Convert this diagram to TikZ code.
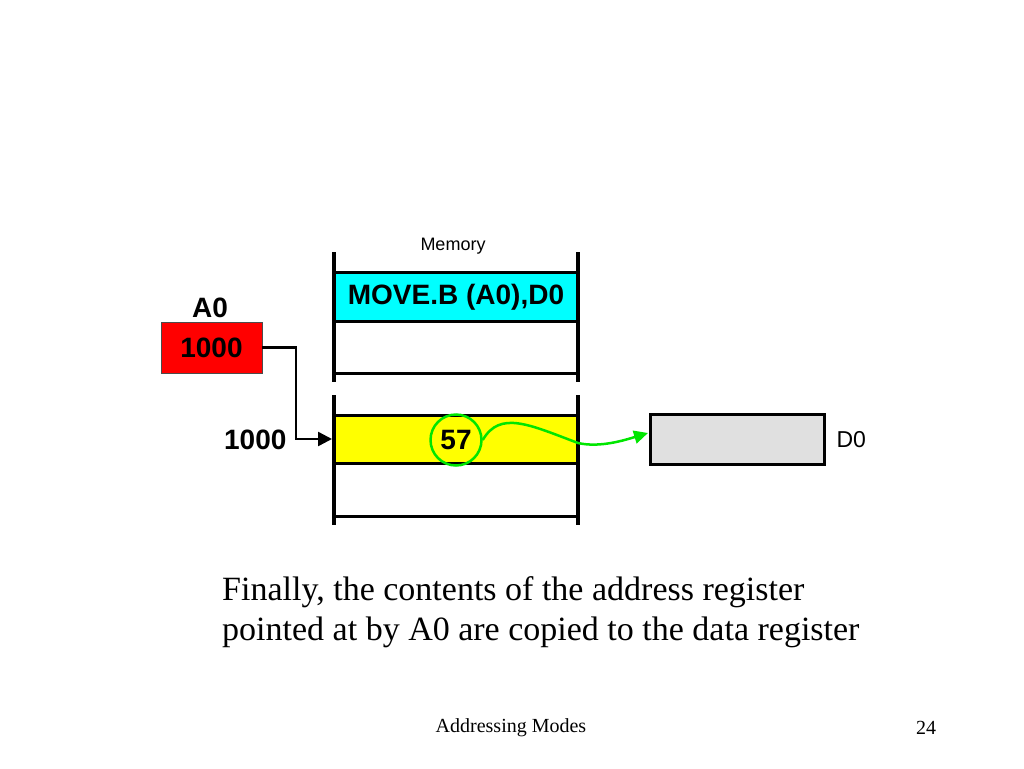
\documentclass[tikz,border=0pt]{standalone}
\usepackage{fontspec}
\setmainfont{Liberation Serif}
\setsansfont{Liberation Sans}
\usetikzlibrary{arrows.meta}
\definecolor{memcyan}{RGB}{0,255,255}
\definecolor{regred}{RGB}{255,0,0}
\definecolor{memyellow}{RGB}{255,255,0}
\definecolor{regGray}{RGB}{224,224,224}
\definecolor{flowgreen}{RGB}{0,230,0}
\tikzset{
  memline/.style={line width=3pt},
  bigsans/.style={font=\sffamily\bfseries\fontsize{28}{32}\selectfont},
  ptr/.style={line width=2.5pt,-{Triangle[length=14pt,width=14pt]}},
}
\begin{document}
\begin{tikzpicture}[x=1pt,y=-1pt]
\useasboundingbox (0,0) rectangle (1024,768);
% Memory label
\node[font=\sffamily\fontsize{18}{20}\selectfont] (memlbl) at (453,246) {Memory};
% upper memory block
\fill[memcyan] (334,272) rectangle (578,321);
\node[bigsans] (instr) at (456,297) {MOVE.B (A0),D0};
\draw[memline] (334,272) -- (578,272);
\draw[memline] (334,321) -- (578,321);
\draw[memline] (334,373) -- (578,373);
\draw[line width=4pt] (334,252) -- (334,382);
\draw[line width=4pt] (578,252) -- (578,382);
% lower memory block
\fill[memyellow] (334,415) rectangle (578,463);
\draw[memline] (334,415) -- (578,415);
\draw[memline] (334,463) -- (578,463);
\draw[memline] (334,516) -- (578,516);
\draw[line width=4pt] (334,395) -- (334,525);
\draw[line width=4pt] (578,395) -- (578,525);
\coordinate (cellin) at (332,439);
% A0 register
\node[bigsans] (a0lbl) at (210,308) {A0};
\node[draw=black!70,line width=0.8pt,fill=regred,minimum width=101pt,minimum height=51pt,inner sep=0pt,bigsans] (a0) at (211.5,347.5) {1000};
\node[bigsans,anchor=east] (addr) at (290,440) {1000};
\draw[ptr] (a0.east) -- (296,347.5) |- (cellin);
% value 57
\node[circle,draw=flowgreen,line width=2.5pt,minimum size=51pt,inner sep=0pt,bigsans] (val) at (456,440) {57};
% D0 register
\node[draw=black,line width=3pt,fill=regGray,minimum width=174pt,minimum height=50pt,inner sep=0pt] (d0) at (737.5,439) {};
\node[font=\sffamily\fontsize{23}{26}\selectfont,anchor=west] (d0lbl) at (833,440) {D0};
\draw[flowgreen,line width=2.5pt,-{Triangle[length=14pt,width=13pt]}] (val.east) .. controls (500,410) and (530,425) .. (578,443) .. controls (600,448) and (625,440) .. (648,433);
% caption
\node[anchor=base west,align=left,font=\fontsize{34}{40}\selectfont,inner sep=0pt] (cap1) at (222,600) {Finally, the contents of the address register};
\node[anchor=base west,align=left,font=\fontsize{34}{40}\selectfont,inner sep=0pt] (cap2) at (222,640) {pointed at by A0 are copied to the data register};
% footer
\node[font=\fontsize{20}{23}\selectfont] (foot) at (511,728) {Addressing Modes};
\node[font=\fontsize{20}{23}\selectfont] (page) at (926,728) {24};
\end{tikzpicture}
\end{document}
